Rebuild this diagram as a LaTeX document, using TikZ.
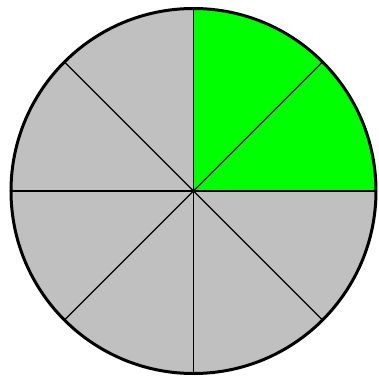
\documentclass[tikz,border=0pt]{standalone}
\definecolor{sectgrey}{RGB}{192,192,192}
\definecolor{sectgreen}{RGB}{0,255,0}
\tikzset{
  spoke/.style={draw=black, line width=1.2pt},
  rim/.style={draw=black, line width=3pt},
}
\begin{document}
\begin{tikzpicture}[x=1pt,y=1pt]
\useasboundingbox (0,0) rectangle (379,381);
\coordinate (c) at (193.5,190);
\def\R{182.5}
\fill[sectgrey] (c) circle (\R);
\fill[sectgreen] (c) -- ++(0:\R) arc (0:90:\R) -- cycle;
\foreach \a in {0,45,...,315}{
  \draw[spoke] (c) -- ++(\a:\R);
}
\draw[rim] (c) circle (\R);
\end{tikzpicture}
\end{document}
